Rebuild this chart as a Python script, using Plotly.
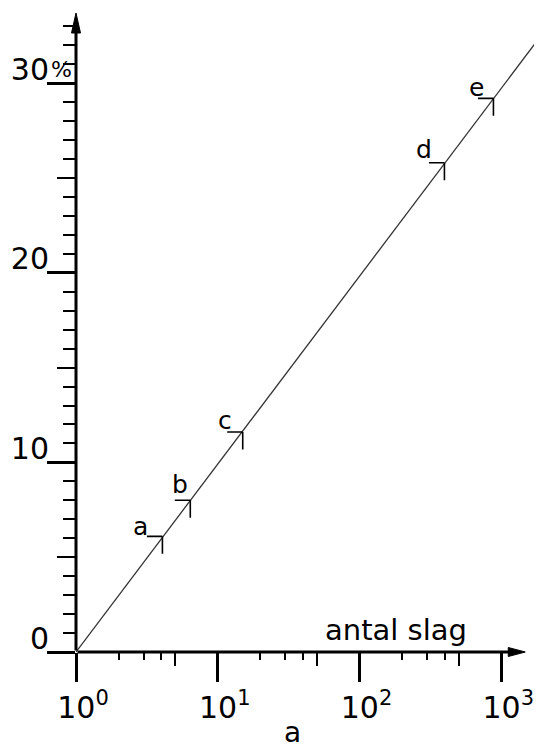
import math
import plotly.graph_objects as go

# ---- data ----
line_n = [1, 1860]
line_pct = [0, 32.4]

point_labels = ["a", "b", "c", "d", "e"]
point_n = [4.07, 6.4, 15.0, 397.0, 880.0]
point_pct = [6.1, 8.0, 11.6, 25.8, 29.2]

x_tickvals = [1, 10, 100, 1000]
x_ticktext = ["10<sup>0</sup>", "10<sup>1</sup>", "10<sup>2</sup>", "10<sup>3</sup>"]
x_minor_short = [2, 3, 4, 20, 30, 40, 200, 300, 400]
x_minor_mid = [5, 50, 500]

y_tickvals = [0, 10, 20, 30]
y_ticktext = ["0", "10", "20", "30"]
y_mid = [5, 15, 25]

x_title = "antal slag"
panel_label = "a"

# ---- styles ----
FONT = "DejaVu Sans"
label_shift = [(-22, 10), (-10, 16), (-18, 12), (-20, 13), (-17, 11)]
XMAX_LOG = 3.28
YMAX = 33.7
X_ARROW_LOG = 3.169
OFF = 8  # page body margin

fig = go.Figure()
fig.add_trace(go.Scatter(x=line_n, y=line_pct, mode="lines",
                         line=dict(color="#333333", width=1.3),
                         hoverinfo="skip", showlegend=False))
# helper trace for overlay axes (medium ticks)
fig.add_trace(go.Scatter(x=[line_n[0]], y=[line_pct[0]], xaxis="x2", yaxis="y2",
                         mode="markers", marker=dict(opacity=0), hoverinfo="skip",
                         showlegend=False))

annotations = []
for lab, n, p, (dx, dy) in zip(point_labels, point_n, point_pct, label_shift):
    lx = math.log10(n)
    annotations.append(dict(x=lx, y=p, xref="x", yref="y", ax=-17, ay=0, text="",
                            showarrow=True, arrowhead=0, arrowwidth=1.6,
                            arrowcolor="black"))
    annotations.append(dict(x=lx, y=p, xref="x", yref="y", ax=0, ay=19, text="",
                            showarrow=True, arrowhead=0, arrowwidth=1.6,
                            arrowcolor="black"))
    annotations.append(dict(x=lx, y=p, xref="x", yref="y", text=lab,
                            showarrow=False, xshift=dx, yshift=dy,
                            font=dict(family=FONT, size=25, color="black")))

# axis shafts
annotations.append(dict(x=0, y=YMAX - 1.0, xref="x", yref="y", axref="x", ayref="y",
                        ax=0, ay=0, text="", showarrow=True, arrowhead=0,
                        arrowwidth=3, arrowcolor="black"))
annotations.append(dict(x=X_ARROW_LOG - 0.08, y=0, xref="x", yref="y", axref="x",
                        ayref="y", ax=0, ay=0, text="", showarrow=True, arrowhead=0,
                        arrowwidth=3, arrowcolor="black"))

# arrow heads
shapes = [
    dict(type="path", xref="paper", yref="paper", xsizemode="pixel", ysizemode="pixel",
         xanchor=0, yanchor=1, path="M -4.5 -20 L 0 0 L 4.5 -20 Z",
         fillcolor="black", line=dict(color="black", width=1)),
    dict(type="path", xref="paper", yref="paper", xsizemode="pixel", ysizemode="pixel",
         xanchor=X_ARROW_LOG / XMAX_LOG, yanchor=0, path="M -17 -4.5 L 0 0 L -17 4.5 Z",
         fillcolor="black", line=dict(color="black", width=1)),
]

W, H = 542 - OFF, 753 - OFF
L, R, T, B = 76 - OFF, 1, 13 - OFF, 101
pw, ph = W - L - R, H - T - B


def px_note(x, y, text, size, pad=1):
    # x, y in window pixels
    return dict(x=(x - OFF - L) / pw, y=1 - (y - OFF - T) / ph, xref="paper",
                yref="paper", xanchor="center", yanchor="middle",
                text=text, showarrow=False, borderpad=pad,
                font=dict(family=FONT, size=size, color="black"))


annotations.append(px_note(396, 630, x_title, 29))
annotations.append(px_note(61, 70, "%", 22))
annotations.append(px_note(292, 732, panel_label, 28, pad=0))

axis_common = dict(showgrid=False, zeroline=False, showline=False, automargin=False)
fig.update_layout(
    width=W, height=H, margin=dict(l=L, r=R, t=T, b=B),
    paper_bgcolor="white", plot_bgcolor="white",
    font=dict(family=FONT, size=30, color="black"),
    annotations=annotations, shapes=shapes,
    xaxis=dict(type="log", range=[0, XMAX_LOG], tickmode="array", tickvals=x_tickvals,
               ticktext=x_ticktext, ticks="outside", ticklen=29, tickwidth=2.5,
               tickcolor="black", ticklabelshift=7,
               minor=dict(tickmode="array", tickvals=x_minor_short, ticks="outside",
                          ticklen=7, tickwidth=2, tickcolor="black"),
               **axis_common),
    xaxis2=dict(type="log", range=[0, XMAX_LOG], overlaying="x", anchor="y2",
                tickmode="array", tickvals=x_minor_mid, ticks="outside", ticklen=13,
                tickwidth=2, tickcolor="black", showticklabels=False, **axis_common),
    yaxis=dict(range=[0, YMAX], tickmode="array", tickvals=y_tickvals,
               ticktext=y_ticktext, ticks="outside", ticklen=28, tickwidth=2.5,
               tickcolor="black", ticklabelshift=-14, ticklabelstandoff=-8,
               minor=dict(dtick=1, ticks="outside", ticklen=12, tickwidth=2,
                          tickcolor="black"),
               **axis_common),
    yaxis2=dict(range=[0, YMAX], overlaying="y", anchor="x2", tickmode="array",
                tickvals=y_mid, ticks="outside", ticklen=18, tickwidth=2,
                tickcolor="black", showticklabels=False, **axis_common),
)
fig.write_html("out.html")
